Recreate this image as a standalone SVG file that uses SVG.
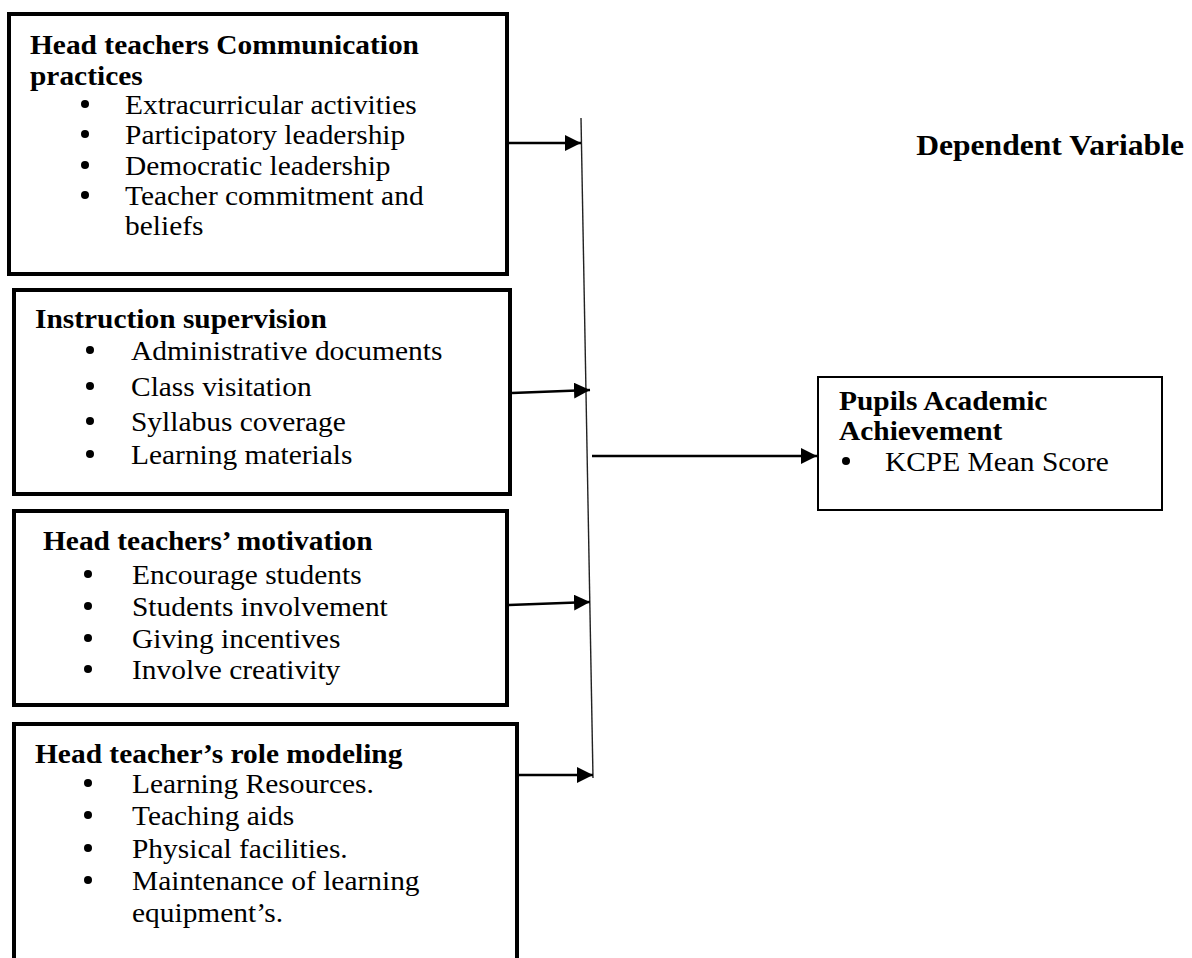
<svg xmlns="http://www.w3.org/2000/svg" width="1192" height="958" viewBox="0 0 1192 958">
  <style>
    .box { fill: #fff; stroke: #000; stroke-width: 4; }
    .box-thin { fill: #fff; stroke: #000; stroke-width: 2; }
    .title { font-family: "Liberation Serif", "Times New Roman", serif; font-size: 27px; font-weight: bold; fill: #000; }
    .item { font-family: "Liberation Serif", "Times New Roman", serif; font-size: 27px; fill: #000; }
    .dot { fill: #000; }
    .heading { font-family: "Liberation Serif", "Times New Roman", serif; font-size: 29px; font-weight: bold; fill: #000; text-anchor: end; }
    .arrow { stroke: #000; stroke-width: 2.5; fill: none; marker-end: url(#head); }
    .bar { stroke: #222; stroke-width: 1.4; fill: none; }
  </style>
  <defs>
    <marker id="head" markerUnits="userSpaceOnUse" markerWidth="16" markerHeight="16" refX="16" refY="8" orient="auto">
      <path d="M0,0 L16,8 L0,16 Z" fill="#000"/>
    </marker>
  </defs>
  <rect width="1192" height="958" fill="#fff"/>

  <!-- Independent variable: communication practices -->
  <g id="communication">
    <rect class="box" x="9" y="14" width="498" height="260"/>
    <circle class="dot" cx="85" cy="104" r="4"/>
    <circle class="dot" cx="85" cy="134" r="4"/>
    <circle class="dot" cx="85" cy="165" r="4"/>
    <circle class="dot" cx="85" cy="195" r="4"/>
    <!-- text is set slightly wide: x values are in the stretched (÷1.09) space -->
    <g transform="scale(1.09 1)">
      <text class="title" x="27.5" y="54">Head teachers Communication</text>
      <text class="title" x="27.5" y="85">practices</text>
      <text class="item" x="114.7" y="114">Extracurricular activities</text>
      <text class="item" x="114.7" y="144">Participatory leadership</text>
      <text class="item" x="114.7" y="175">Democratic leadership</text>
      <text class="item" x="114.7" y="205">Teacher commitment and</text>
      <text class="item" x="114.7" y="235">beliefs</text>
    </g>
  </g>

  <!-- Independent variable: instruction supervision -->
  <g id="supervision">
    <rect class="box" x="14" y="290" width="496" height="204"/>
    <circle class="dot" cx="90" cy="350" r="4"/>
    <circle class="dot" cx="90" cy="386" r="4"/>
    <circle class="dot" cx="90" cy="421" r="4"/>
    <circle class="dot" cx="90" cy="454" r="4"/>
    <g transform="scale(1.09 1)">
      <text class="title" x="32.1" y="328">Instruction supervision</text>
      <text class="item" x="120.2" y="360">Administrative documents</text>
      <text class="item" x="120.2" y="396">Class visitation</text>
      <text class="item" x="120.2" y="431">Syllabus coverage</text>
      <text class="item" x="120.2" y="464">Learning materials</text>
    </g>
  </g>

  <!-- Independent variable: motivation -->
  <g id="motivation">
    <rect class="box" x="14" y="511" width="493" height="194"/>
    <circle class="dot" cx="88" cy="574" r="4"/>
    <circle class="dot" cx="88" cy="606" r="4"/>
    <circle class="dot" cx="88" cy="638" r="4"/>
    <circle class="dot" cx="88" cy="669" r="4"/>
    <g transform="scale(1.09 1)">
      <text class="title" x="39.4" y="550">Head teachers’ motivation</text>
      <text class="item" x="121.1" y="584">Encourage students</text>
      <text class="item" x="121.1" y="616">Students involvement</text>
      <text class="item" x="121.1" y="648">Giving incentives</text>
      <text class="item" x="121.1" y="679">Involve creativity</text>
    </g>
  </g>

  <!-- Independent variable: role modeling -->
  <g id="role-modeling">
    <rect class="box" x="14" y="724" width="503" height="260"/>
    <circle class="dot" cx="88" cy="783" r="4"/>
    <circle class="dot" cx="88" cy="815" r="4"/>
    <circle class="dot" cx="88" cy="848" r="4"/>
    <circle class="dot" cx="88" cy="880" r="4"/>
    <g transform="scale(1.09 1)">
      <text class="title" x="32.1" y="763">Head teacher’s role modeling</text>
      <text class="item" x="121.1" y="793">Learning Resources.</text>
      <text class="item" x="121.1" y="825">Teaching aids</text>
      <text class="item" x="121.1" y="858">Physical facilities.</text>
      <text class="item" x="121.1" y="890">Maintenance of learning</text>
      <text class="item" x="121.1" y="922">equipment’s.</text>
    </g>
  </g>

  <!-- Dependent variable -->
  <g id="dependent-label">
    <g transform="scale(1.09 1)">
      <text class="heading" x="1086.2" y="155">Dependent Variable</text>
    </g>
  </g>

  <g id="achievement">
    <rect class="box-thin" x="818" y="377" width="344" height="133"/>
    <circle class="dot" cx="846" cy="461" r="4"/>
    <g transform="scale(1.09 1)">
      <text class="title" x="769.7" y="410">Pupils Academic</text>
      <text class="title" x="769.7" y="440">Achievement</text>
      <text class="item" x="811.9" y="471">KCPE Mean Score</text>
    </g>
  </g>

  <!-- Connectors -->
  <g id="connectors">
    <line class="bar" x1="581" y1="118" x2="593" y2="778"/>
    <line class="arrow" x1="509" y1="143" x2="581" y2="143"/>
    <line class="arrow" x1="512" y1="393" x2="590" y2="390"/>
    <line class="arrow" x1="509" y1="605" x2="590" y2="602"/>
    <line class="arrow" x1="519" y1="775" x2="593" y2="775"/>
    <line class="arrow" x1="592" y1="456" x2="817" y2="456"/>
  </g>
</svg>
